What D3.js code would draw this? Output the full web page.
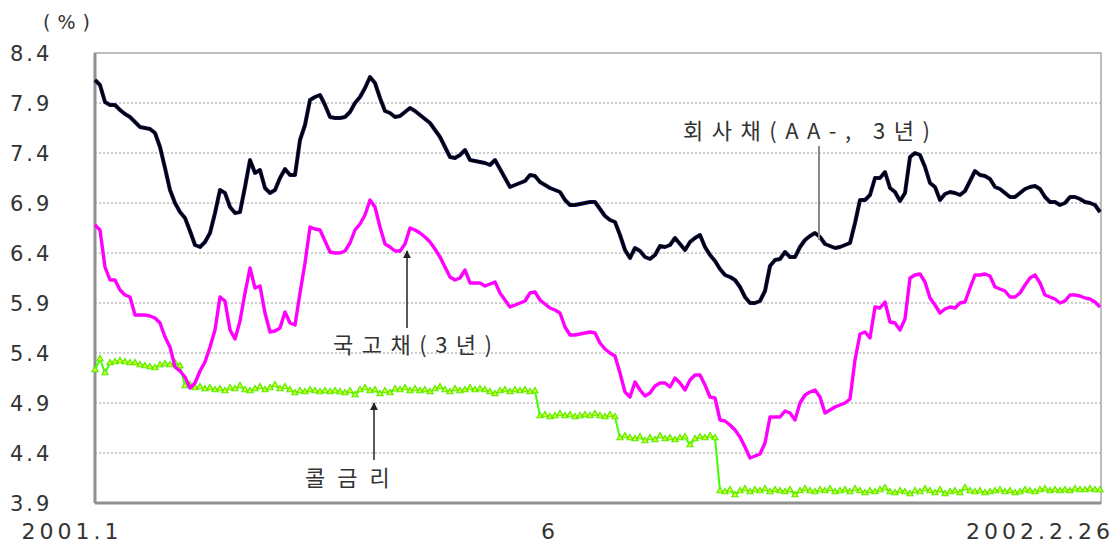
<!doctype html>
<html>
<head>
<meta charset="utf-8">
<title>회사채 국고채 콜금리</title>
<style>
  body { margin: 0; background: #fff; }
  svg text { font-family: "DejaVu Sans", "Noto Sans CJK KR", sans-serif; fill: #333; }
  .kr { font-family: "Noto Sans CJK KR", sans-serif; }
</style>
<script src="https://d3js.org/d3.v7.min.js"></script>
</head>
<body>
<svg width="1118" height="547"></svg>
<script>
// y axis ticks (%)
var Y_TICKS = [3.9, 4.4, 4.9, 5.4, 5.9, 6.4, 6.9, 7.4, 7.9, 8.4];
// x tick labels and the sample index they sit at
var X_LABELS = ["2001.1", "6", "2002.2.26"];
var X_LABEL_IDX = [0, 91, 201];

// 회사채 (AA-, 3년)
var corp = [8.13,8.08,7.91,7.88,7.88,7.83,7.79,7.76,7.71,7.66,7.65,7.64,7.60,7.46,7.25,7.03,6.90,6.81,6.75,6.62,
  6.48,6.46,6.51,6.60,6.80,7.03,7.00,6.86,6.80,6.81,7.06,7.33,7.20,7.23,7.05,7.00,7.03,7.15,7.24,7.18,
  7.18,7.53,7.68,7.93,7.96,7.98,7.88,7.76,7.75,7.75,7.76,7.81,7.90,7.96,8.05,8.16,8.10,7.95,7.82,7.80,
  7.76,7.77,7.81,7.85,7.82,7.78,7.74,7.70,7.63,7.56,7.46,7.36,7.35,7.38,7.43,7.33,7.32,7.31,7.30,7.28,
  7.33,7.24,7.15,7.06,7.08,7.10,7.12,7.18,7.17,7.11,7.08,7.05,7.03,7.01,6.93,6.88,6.88,6.89,6.90,6.91,
  6.91,6.84,6.77,6.73,6.71,6.58,6.43,6.35,6.45,6.42,6.36,6.34,6.38,6.47,6.46,6.48,6.55,6.49,6.43,6.51,
  6.55,6.58,6.46,6.38,6.32,6.24,6.18,6.16,6.13,6.06,5.96,5.90,5.90,5.92,6.02,6.27,6.33,6.34,6.41,6.36,
  6.36,6.46,6.53,6.57,6.60,6.56,6.49,6.47,6.45,6.46,6.48,6.50,6.70,6.93,6.93,6.98,7.15,7.15,7.21,7.05,
  7.01,6.92,7.00,7.36,7.40,7.38,7.26,7.10,7.06,6.93,6.99,7.01,7.00,6.98,7.02,7.12,7.22,7.18,7.17,7.14,
  7.06,7.04,7.00,6.96,6.96,7.00,7.04,7.06,7.07,7.04,6.96,6.91,6.91,6.88,6.90,6.96,6.96,6.94,6.91,6.90,
  6.88,6.81];

// 국고채 (3년)
var gov = [6.68,6.63,6.26,6.13,6.13,6.03,5.98,5.96,5.78,5.78,5.78,5.77,5.75,5.70,5.56,5.46,5.26,5.22,5.16,5.05,
  5.10,5.22,5.31,5.46,5.63,5.96,5.92,5.63,5.54,5.72,6.00,6.25,6.05,6.07,5.80,5.61,5.62,5.65,5.81,5.70,
  5.68,6.00,6.30,6.66,6.64,6.63,6.52,6.41,6.40,6.40,6.42,6.50,6.63,6.69,6.78,6.93,6.86,6.66,6.49,6.46,
  6.42,6.42,6.49,6.65,6.63,6.60,6.56,6.51,6.44,6.36,6.26,6.16,6.13,6.15,6.23,6.10,6.10,6.10,6.07,6.09,
  6.11,6.00,5.93,5.86,5.88,5.90,5.92,6.00,6.01,5.93,5.89,5.85,5.83,5.80,5.66,5.58,5.58,5.59,5.60,5.61,
  5.60,5.50,5.44,5.40,5.37,5.20,5.01,4.96,5.11,5.03,4.97,5.00,5.07,5.10,5.10,5.06,5.15,5.10,5.03,5.13,
  5.18,5.18,5.08,4.96,4.95,4.73,4.72,4.68,4.63,4.56,4.46,4.35,4.37,4.39,4.50,4.76,4.76,4.76,4.82,4.80,
  4.73,4.90,4.98,5.01,5.03,4.96,4.80,4.83,4.86,4.88,4.90,4.94,5.33,5.59,5.61,5.55,5.86,5.85,5.91,5.71,
  5.70,5.63,5.74,6.15,6.18,6.19,6.11,5.95,5.88,5.80,5.84,5.86,5.85,5.90,5.91,6.05,6.18,6.18,6.19,6.17,
  6.06,6.04,6.02,5.96,5.96,6.00,6.08,6.15,6.18,6.10,5.98,5.96,5.94,5.90,5.92,5.98,5.98,5.97,5.95,5.94,
  5.91,5.86];

// 콜금리
var call = [5.23,5.34,5.20,5.30,5.31,5.32,5.31,5.30,5.30,5.28,5.27,5.26,5.25,5.28,5.29,5.28,5.30,5.27,5.07,5.08,
  5.05,5.06,5.04,5.05,5.03,5.04,5.02,5.05,5.04,5.07,5.03,5.02,5.04,5.06,5.03,5.05,5.08,5.04,5.06,5.03,
  5.00,5.02,5.01,5.03,5.02,5.01,5.02,5.01,5.02,5.01,5.00,5.02,4.98,5.03,5.05,5.02,5.03,4.99,5.02,5.00,
  5.04,5.03,5.05,5.02,5.04,5.02,5.03,5.01,5.04,5.06,5.03,5.01,5.04,5.02,5.03,5.05,5.03,5.04,5.03,5.01,
  4.99,5.02,5.03,5.01,5.03,5.02,5.03,5.01,5.02,4.77,4.78,4.76,4.77,4.79,4.77,4.78,4.76,4.77,4.78,4.77,
  4.79,4.77,4.76,4.78,4.76,4.55,4.57,4.55,4.54,4.56,4.52,4.55,4.53,4.57,4.54,4.55,4.53,4.55,4.56,4.48,
  4.54,4.56,4.55,4.57,4.55,4.02,4.01,4.03,3.98,4.02,4.04,4.01,4.03,4.02,4.04,4.01,4.03,4.02,4.01,4.03,
  3.98,4.02,4.04,4.02,4.01,4.03,4.02,4.04,4.01,4.02,4.03,4.01,4.04,4.02,4.00,4.02,4.01,4.03,4.05,4.01,
  4.00,4.02,4.01,3.99,4.02,4.01,4.04,4.02,4.00,4.03,3.99,4.01,4.02,4.00,4.05,4.02,4.01,4.02,4.00,4.01,
  4.02,4.03,4.01,4.02,4.00,4.01,4.03,4.02,4.01,4.03,4.04,4.02,4.03,4.02,4.03,4.02,4.04,4.03,4.03,4.04,
  4.03,4.03];

var svg = d3.select("svg");
var plotL = 95, plotR = 1101, plotT = 53, plotB = 503;

var x = d3.scaleLinear().domain([0, corp.length - 1]).range([plotL, plotR - 1]);
var y = d3.scaleLinear().domain([3.9, 8.4]).range([plotB, plotT]);

// dotted grid
svg.append("g")
  .selectAll("line")
  .data(Y_TICKS.slice(1, -1))
  .enter().append("line")
    .attr("x1", plotL).attr("x2", plotR)
    .attr("y1", function(d) { return y(d); })
    .attr("y2", function(d) { return y(d); })
    .attr("stroke", "#9a9a9a")
    .attr("stroke-width", 1.2)
    .attr("stroke-dasharray", "2,2");

// frame
svg.append("rect")
  .attr("x", plotL).attr("y", plotT)
  .attr("width", plotR - plotL).attr("height", plotB - plotT)
  .attr("fill", "none").attr("stroke", "#a8a8a8").attr("stroke-width", 1.5);
svg.append("line").attr("x1", plotL).attr("x2", plotL).attr("y1", plotT).attr("y2", plotB)
  .attr("stroke", "#909090").attr("stroke-width", 3);
svg.append("line").attr("x1", plotL).attr("x2", plotR).attr("y1", plotB).attr("y2", plotB)
  .attr("stroke", "#909090").attr("stroke-width", 3);

// y labels
svg.append("g")
  .selectAll("text")
  .data(Y_TICKS)
  .enter().append("text")
    .attr("x", 10)
    .attr("y", function(d) { return y(d); })
    .attr("dy", "0.36em")
    .attr("font-size", 21)
    .attr("letter-spacing", 3)
    .text(function(d) { return d3.format(".1f")(d); });

svg.append("text").attr("x", 43).attr("y", 22).attr("dy", "0.36em")
  .attr("font-size", 19).attr("letter-spacing", 7).text("(%)");

// x labels
var xAnchor = ["middle", "middle", "end"];
var xShift = [-23, 0, 14];
svg.append("g")
  .selectAll("text")
  .data(X_LABELS)
  .enter().append("text")
    .attr("x", function(d, i) { return x(X_LABEL_IDX[i]) + xShift[i]; })
    .attr("y", 531)
    .attr("dy", "0.36em")
    .attr("text-anchor", function(d, i) { return xAnchor[i]; })
    .attr("font-size", 22)
    .attr("letter-spacing", 4)
    .text(function(d) { return d; });

var line = d3.line()
  .x(function(d, i) { return x(i); })
  .y(function(d) { return y(d); });

// call rate with triangle markers
svg.append("path").datum(call).attr("d", line)
  .attr("fill", "none").attr("stroke", "#44ff00").attr("stroke-width", 2);
svg.append("g")
  .selectAll("path")
  .data(call)
  .enter().append("path")
    .attr("transform", function(d, i) { return "translate(" + x(i) + "," + y(d) + ")"; })
    .attr("d", d3.symbol().type(d3.symbolTriangle).size(16))
    .attr("fill", "#ddff22")
    .attr("stroke", "#55ee00")
    .attr("stroke-width", 1.2);

// government bond
svg.append("path").datum(gov).attr("d", line)
  .attr("fill", "none").attr("stroke", "#ff00ff").attr("stroke-width", 3.4)
  .attr("stroke-linejoin", "round");

// corporate bond
svg.append("path").datum(corp).attr("d", line)
  .attr("fill", "none").attr("stroke", "#141466").attr("stroke-width", 4)
  .attr("stroke-linejoin", "round");
svg.append("path").datum(corp).attr("d", line)
  .attr("fill", "none").attr("stroke", "#000").attr("stroke-width", 2.4)
  .attr("stroke-linejoin", "round");

// annotations
svg.append("defs").append("marker")
  .attr("id", "arr").attr("viewBox", "0 0 10 10").attr("refX", 9).attr("refY", 5)
  .attr("markerWidth", 8).attr("markerHeight", 8).attr("markerUnits", "userSpaceOnUse")
  .attr("orient", "auto")
  .append("path").attr("d", "M0,0 L10,5 L0,10 Z").attr("fill", "#222");

svg.append("line").attr("x1", 819).attr("x2", 819).attr("y1", 146).attr("y2", 240)
  .attr("stroke", "#888").attr("stroke-width", 2);
svg.append("line").attr("x1", 407).attr("x2", 407).attr("y1", 328).attr("y2", 251)
  .attr("stroke", "#222").attr("stroke-width", 1.5).attr("marker-end", "url(#arr)");
svg.append("line").attr("x1", 374).attr("x2", 374).attr("y1", 460).attr("y2", 403)
  .attr("stroke", "#222").attr("stroke-width", 1.5).attr("marker-end", "url(#arr)");

svg.append("text").attr("class", "kr").attr("x", 683).attr("y", 131).attr("dy", "0.36em")
  .attr("font-size", 22).attr("letter-spacing", 8.5).text("회사채(AA-, 3년)");
svg.append("text").attr("class", "kr").attr("x", 333).attr("y", 345).attr("dy", "0.36em")
  .attr("font-size", 22).attr("letter-spacing", 8.5).text("국고채(3년)");
svg.append("text").attr("class", "kr").attr("x", 305).attr("y", 478).attr("dy", "0.36em")
  .attr("font-size", 22).attr("letter-spacing", 12).text("콜금리");
</script>
</body>
</html>
